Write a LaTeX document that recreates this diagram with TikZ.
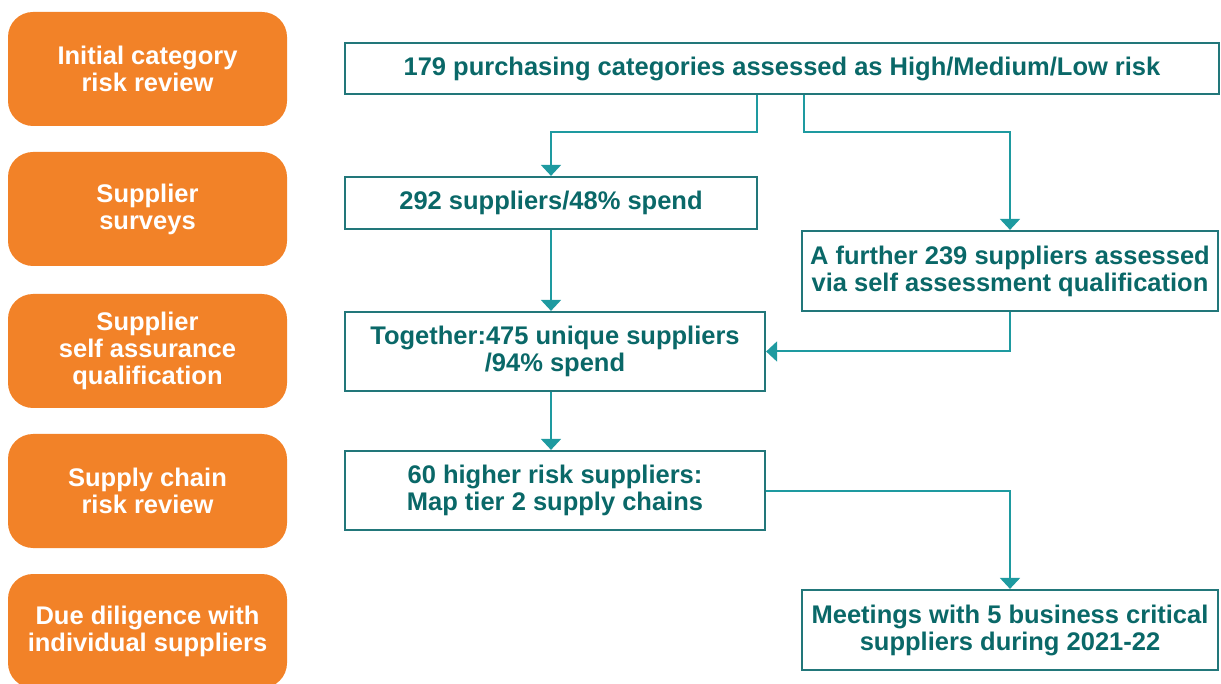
\documentclass[tikz,border=0pt]{standalone}
\usepackage{fontspec}
\setmainfont{Liberation Sans}
\usetikzlibrary{arrows.meta}
\definecolor{stageorange}{HTML}{F28228}
\definecolor{tealtext}{HTML}{0A6868}
\definecolor{tealbox}{HTML}{22777A}
\definecolor{teallink}{HTML}{1E9AA0}
\tikzset{
  stage/.style={fill=stageorange, rounded corners=25pt, text=white, align=center,
    minimum width=279pt, minimum height=114pt, inner sep=0pt,
    font=\bfseries\fontsize{25.5}{27}\selectfont},
  flowbox/.style={draw=tealbox, line width=2.2pt, text=tealtext, align=center,
    inner sep=0pt, font=\bfseries\fontsize{25.5}{27}\selectfont},
  link/.style={draw=teallink, line width=2pt,
    -{Triangle[width=20pt,length=11pt]}}
}
\begin{document}
\begin{tikzpicture}[x=1pt, y=-1pt]
\useasboundingbox (0,0) rectangle (1221,684);

% stages
\node[stage] (s1) at (147.5, 69) {Initial category\\risk review};
\node[stage] (s2) at (147.5, 209) {Supplier\\surveys};
\node[stage] (s3) at (147.5, 351) {Supplier\\self assurance\\qualification};
\node[stage] (s4) at (147.5, 491) {Supply chain\\risk review};
\node[stage] (s5) at (147.5, 631) {Due diligence with\\individual suppliers};

% flow boxes
\node[flowbox, minimum width=874pt, minimum height=51pt] (cat) at (782, 68.5)
  {179 purchasing categories assessed as High/Medium/Low risk};
\node[flowbox, minimum width=412pt, minimum height=52pt] (survey) at (551, 203)
  {292 suppliers/48\% spend};
\node[flowbox, minimum width=416pt, minimum height=80pt] (further) at (1010, 271)
  {A further 239 suppliers assessed\\via self assessment qualification};
\node[flowbox, minimum width=420pt, minimum height=79pt] (together) at (555, 351.5)
  {Together:475 unique suppliers\\/94\% spend};
\node[flowbox, minimum width=420pt, minimum height=79pt] (higher) at (555, 490.5)
  {60 higher risk suppliers:\\Map tier 2 supply chains};
\node[flowbox, minimum width=416pt, minimum height=80pt] (meet) at (1010, 630)
  {Meetings with 5 business critical\\suppliers during 2021-22};

% connectors
\coordinate (lsplit) at (757, 132);
\coordinate (rsplit) at (804, 132);
\draw[link] (cat.south -| lsplit) -- (lsplit) -| (survey.north);
\draw[link] (cat.south -| rsplit) -- (rsplit) -| (further.north);
\draw[link] (survey.south) -- (together.north -| survey.south);
\draw[link] (further.south) |- (together.east);
\draw[link] (together.south -| survey.south) -- (higher.north -| survey.south);
\draw[link] (higher.east) -| (meet.north);
\end{tikzpicture}
\end{document}
